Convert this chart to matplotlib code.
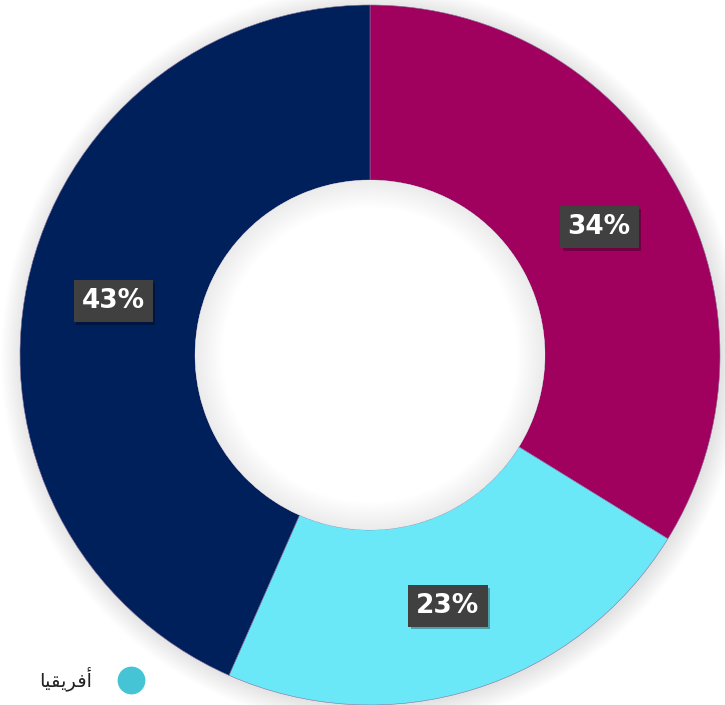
import matplotlib
matplotlib.use("Agg")
from matplotlib import pyplot as plt
from matplotlib.patches import Annulus, Circle
import matplotlib.patheffects as pe
import numpy as np

# slice data (clockwise from 12 o'clock)
shares = [33.8, 22.8, 43.4]
colors = ["#A0005E", "#6AE8F8", "#00205C"]
legend_label = "\uFE8E\uFEF4\uFED8\uFEF3\uFEAE\uFED3\uFE83"  # أفريقيا, pre-shaped for display
legend_color = "#44C4D4"

fig = plt.figure(figsize=(7.25, 7.05), dpi=100)
ax = fig.add_axes([20 / 725, 0 / 705, 700 / 725, 700 / 705])

# soft shadow under the donut (fades outward)
for r in np.linspace(1.06, 1.0, 14):
    ax.add_patch(Circle((0.006, -0.006), r, color="black", alpha=0.006, zorder=0,
                        linewidth=0, clip_on=False))

wedges, _ = ax.pie(shares, colors=colors, startangle=90, counterclock=False,
                   radius=1.0, wedgeprops=dict(width=0.5, edgecolor="#8a6f9a", linewidth=0.4))
for w in wedges:
    w.set_zorder(2)
    w.set_clip_on(False)

# inner shadow in the hole (fades toward the centre)
ax.add_patch(Circle((0, 0), 0.5, color="white", zorder=3, linewidth=0))
for wd in np.linspace(0.004, 0.08, 20):
    ax.add_patch(Annulus((0, 0), 0.5, wd, color="black", alpha=0.005, zorder=3, linewidth=0))

# percentage labels
theta = 90.0
for s, w in zip(shares, wedges):
    mid = np.deg2rad(theta - s * 3.6 / 2)
    theta -= s * 3.6
    x, y = 0.75 * np.cos(mid), 0.75 * np.sin(mid)
    t = ax.text(x, y, f"{s:.0f}%", ha="center", va="center", color="white", fontsize=19,
                fontweight="bold", family="DejaVu Sans", zorder=5,
                bbox=dict(boxstyle="square,pad=0.3", fc="#404040", ec="none"))
    t.get_bbox_patch().set_path_effects(
        [pe.SimplePatchShadow(offset=(2, -2), shadow_rgbFace="black", alpha=0.3), pe.Normal()])

ax.set_xlim(-1, 1)
ax.set_ylim(-1, 1)
ax.set_aspect("equal")
ax.axis("off")

# legend (only the first entry is visible)
fig.text(92 / 725, 1 - 679 / 705, legend_label, ha="right", va="center",
         fontsize=14, family="DejaVu Sans", color="#222222")
ax2 = fig.add_axes([0, 0, 1, 1], facecolor="none")
ax2.set_xlim(0, 725)
ax2.set_ylim(705, 0)
ax2.axis("off")
ax2.plot([131], [680], "o", ms=19, color=legend_color)

fig.savefig("out.png", dpi=100)
